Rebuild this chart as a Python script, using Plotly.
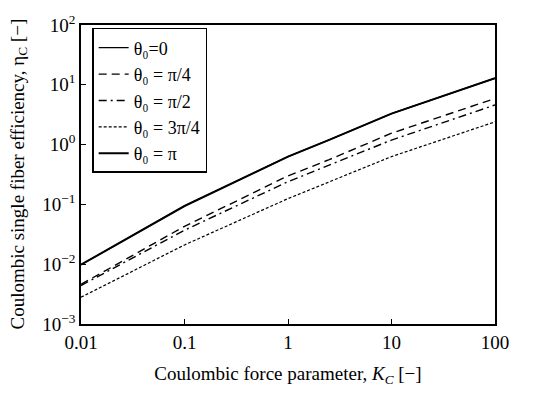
import plotly.graph_objects as go

K = [0.01, 0.1, 1, 2.5, 10, 100]
eta_0 = [0.0098, 0.094, 0.63, 1.2, 3.3, 12.9]
eta_pi4 = [0.0046, 0.043, 0.30, 0.56, 1.55, 5.9]
eta_pi2 = [0.0044, 0.037, 0.24, 0.45, 1.19, 4.6]
eta_3pi4 = [0.0028, 0.021, 0.125, 0.24, 0.63, 2.4]
eta_pi = [0.0098, 0.094, 0.63, 1.2, 3.3, 12.9]

names = ["θ₀=0", "θ₀ = π/4", "θ₀ = π/2", "θ₀ = 3π/4", "θ₀ = π"]
series = [eta_0, eta_pi4, eta_pi2, eta_3pi4, eta_pi]
dashes = ["solid", "8px,5px", "8px,4px,2px,4px", "3px,2px", "solid"]
widths = [1.3, 1.4, 1.4, 1.2, 2.0]

xticks = [0.01, 0.1, 1, 10, 100]
xticktext = ["0.01", "0.1", "1", "10", "100"]
yticks = [1e-3, 1e-2, 1e-1, 1, 10, 100]
yticktext = ["10<sup>−3</sup>", "10<sup>−2</sup>", "10<sup>−1</sup>",
             "10<sup>0</sup>", "10<sup>1</sup>", "10<sup>2</sup>"]

fig = go.Figure()
for n, s, d, w in zip(names, series, dashes, widths):
    fig.add_trace(go.Scatter(x=K, y=s, mode="lines", name=n,
                             line=dict(color="black", dash=d, width=w)))

font = "Liberation Serif, Times New Roman, serif"
fig.update_layout(
    width=545, height=393,
    margin=dict(l=81, r=50, t=21, b=63),
    paper_bgcolor="white", plot_bgcolor="white",
    font=dict(family=font, size=19, color="black"),
    showlegend=True,
    legend=dict(x=0.027, y=0.99, xanchor="left", yanchor="top",
                bordercolor="black", borderwidth=1.5, bgcolor="white",
                font=dict(family=font, size=18), itemwidth=30,
                tracegroupgap=0),
    annotations=[dict(text="Coulombic single fiber efficiency, η<sub>C</sub> [−]",
                      xref="paper", yref="paper", x=-(81 - 18) / 414, y=0.5,
                      xanchor="center", yanchor="middle", textangle=-90,
                      showarrow=False, font=dict(family=font, size=19))],
)
fig.update_xaxes(type="log", range=[-2, 2], tickvals=xticks, ticktext=xticktext,
                 ticks="inside", ticklen=5, tickcolor="black",
                 showline=True, linecolor="black", linewidth=1.5, mirror=True,
                 showgrid=False, zeroline=False,
                 tickfont=dict(family=font, size=19),
                 title=dict(text="Coulombic force parameter, <i>K<sub>C</sub></i> [−]",
                            font=dict(family=font, size=19), standoff=15))
fig.update_yaxes(type="log", range=[-3, 2], tickvals=yticks, ticktext=yticktext,
                 ticks="inside", ticklen=5, tickcolor="black",
                 showline=True, linecolor="black", linewidth=1.5, mirror=True,
                 showgrid=False, zeroline=False,
                 tickfont=dict(family=font, size=19))

fig.write_html("out.html")
